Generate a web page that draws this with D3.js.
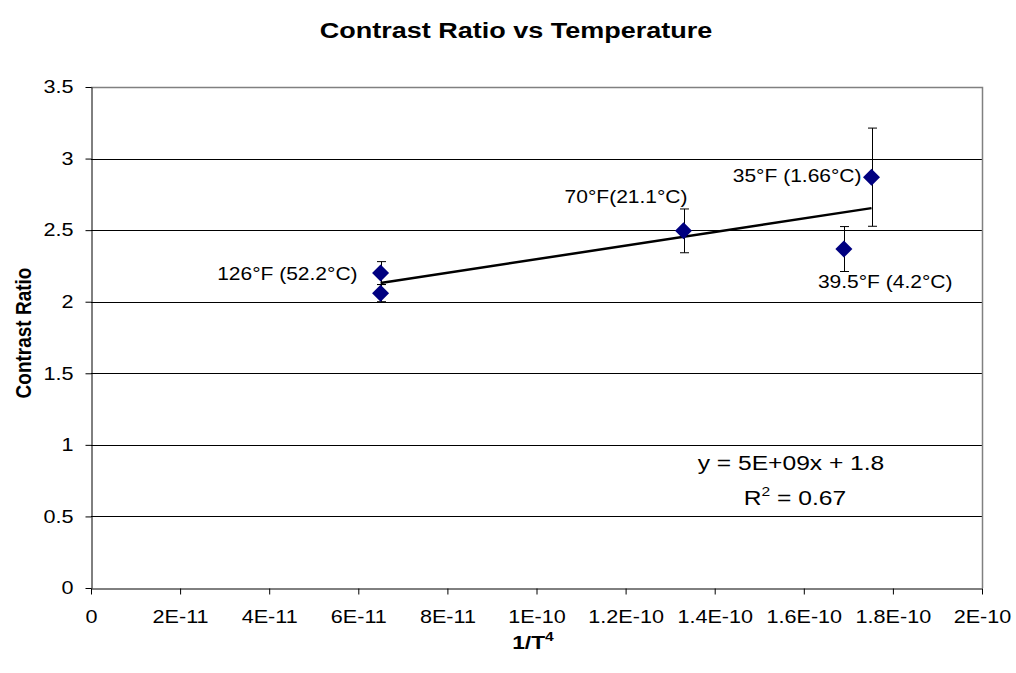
<!DOCTYPE html>
<html>
<head>
<meta charset="utf-8">
<script src="https://cdn.jsdelivr.net/npm/d3@7"></script>
<style>
  html, body { margin: 0; padding: 0; background: #fff; }
  svg { display: block; font-family: "Liberation Sans", Arial, sans-serif; }
</style>
</head>
<body>
<svg id="chart" width="1016" height="673"></svg>
<script>
// Measurements: 1/T^4 against contrast ratio, with error bars
const labels    = ["126°F (52.2°C)", "", "70°F(21.1°C)", "35°F (1.66°C)", "39.5°F (4.2°C)"];
const invT4     = [6.5e-11, 6.5e-11, 1.33e-10, 1.752e-10, 1.69e-10];
const contrast  = [2.20, 2.06, 2.495, 2.87, 2.368];
const errors    = [0.08, 0.06, 0.153, 0.343, 0.157];

const xTicks = [0, 2e-11, 4e-11, 6e-11, 8e-11, 1e-10, 1.2e-10, 1.4e-10, 1.6e-10, 1.8e-10, 2e-10];
const xTickLabels = ["0", "2E-11", "4E-11", "6E-11", "8E-11", "1E-10", "1.2E-10", "1.4E-10", "1.6E-10", "1.8E-10", "2E-10"];
const yTicks = [0, 0.5, 1, 1.5, 2, 2.5, 3, 3.5];

// Text is drawn slightly wide, as in the original chart output
const SX = 1.2;
const FONT = "Liberation Sans, Arial, sans-serif";

const svg = d3.select("#chart");
const plot = { left: 91, right: 982, top: 87, bottom: 588 };

const x = d3.scaleLinear().domain([0, 2e-10]).range([plot.left, plot.right]);
const y = d3.scaleLinear().domain([0, 3.5]).range([plot.bottom, plot.top]);

function wideText(px, py, size, anchor, extra = "") {
  return svg.append("text")
    .attr("transform", `translate(${px},${py}) scale(${SX},1)${extra}`)
    .attr("text-anchor", anchor)
    .attr("font-size", size);
}

// Title
wideText(516, 38, 22.5, "middle")
  .attr("font-weight", "bold")
  .text("Contrast Ratio vs Temperature");

// Horizontal gridlines
svg.append("g")
  .selectAll("line")
  .data(yTicks.filter(v => v > 0 && v < 3.5))
  .join("line")
  .attr("x1", plot.left).attr("x2", plot.right)
  .attr("y1", d => Math.round(y(d)) + 0.5).attr("y2", d => Math.round(y(d)) + 0.5)
  .attr("stroke", "#000").attr("stroke-width", 1);

// Plot frame (top and right)
svg.append("path")
  .attr("d", `M${plot.left},${plot.top + 0.5}H${plot.right + 0.5}V${plot.bottom}`)
  .attr("fill", "none").attr("stroke", "#808080").attr("stroke-width", 1.5);

// Axes
const xAxis = d3.axisBottom(x)
  .tickValues(xTicks)
  .tickFormat((d, i) => xTickLabels[i])
  .tickSizeInner(6).tickSizeOuter(0).tickPadding(16);
const gx = svg.append("g")
  .attr("transform", `translate(0,${plot.bottom + 0.5})`)
  .call(xAxis);
gx.select(".domain").attr("stroke", "#000");
gx.selectAll(".tick line").attr("stroke", "#000");
gx.selectAll(".tick text")
  .attr("font-size", 18).attr("fill", "#000").attr("font-family", FONT)
  .attr("transform", `scale(${SX},1)`);

const yAxis = d3.axisLeft(y)
  .tickValues(yTicks)
  .tickFormat(d3.format("~g"))
  .tickSizeInner(6).tickSizeOuter(0).tickPadding(12);
const gy = svg.append("g")
  .attr("transform", `translate(${plot.left + 0.5},0)`)
  .call(yAxis);
gy.select(".domain").attr("stroke", "#000");
gy.selectAll(".tick line").attr("stroke", "#000");
gy.selectAll(".tick text")
  .attr("font-size", 18).attr("fill", "#000").attr("font-family", FONT)
  .attr("x", function () { return +d3.select(this).attr("x") / SX; })
  .attr("transform", `scale(${SX},1)`);

// Axis titles
wideText(31, 333, 19, "middle", " rotate(-90)")
  .attr("font-weight", "bold")
  .text("Contrast Ratio");

const xTitle = wideText(533, 649, 19, "middle").attr("font-weight", "bold");
xTitle.append("tspan").text("1/T");
xTitle.append("tspan").attr("dy", -8).attr("font-size", 13).text("4");

// Data rows
const data = invT4.map((v, i) => ({ x: v, y: contrast[i], e: errors[i], label: labels[i] }));

// Least-squares trendline
const mx = d3.mean(invT4), my = d3.mean(contrast);
const sxy = d3.sum(data, d => (d.x - mx) * (d.y - my));
const sxx = d3.sum(data, d => (d.x - mx) ** 2);
const slope = sxy / sxx, intercept = my - slope * mx;
const [xmin, xmax] = d3.extent(invT4);

// Error bars
const eb = svg.append("g").attr("stroke", "#000").attr("stroke-width", 1);
data.forEach(d => {
  const cx = Math.round(x(d.x)) + 0.5;
  eb.append("line").attr("x1", cx).attr("x2", cx).attr("y1", y(d.y - d.e)).attr("y2", y(d.y + d.e));
  [d.y - d.e, d.y + d.e].forEach(v => {
    eb.append("line").attr("x1", cx - 4.5).attr("x2", cx + 4.5).attr("y1", y(v)).attr("y2", y(v));
  });
});

svg.append("line")
  .attr("x1", x(xmin)).attr("y1", y(slope * xmin + intercept))
  .attr("x2", x(xmax)).attr("y2", y(slope * xmax + intercept))
  .attr("stroke", "#000").attr("stroke-width", 2.5);

// Diamond markers
svg.append("g")
  .selectAll("path")
  .data(data)
  .join("path")
  .attr("transform", d => `translate(${x(d.x)},${y(d.y)})`)
  .attr("d", "M0,-8.5L8.5,0L0,8.5L-8.5,0Z")
  .attr("fill", "#000080");

// Point labels
const labelPos = [
  { dx: -23, dy: 6.5, anchor: "end" },
  null,
  { dx: 4, dy: -28, anchor: "end" },
  { dx: -10, dy: 5, anchor: "end" },
  { dx: -26, dy: 39, anchor: "start" }
];
data.forEach((d, i) => {
  const p = labelPos[i];
  if (!p) return;
  wideText(x(d.x) + p.dx, y(d.y) + p.dy, 17.5, p.anchor).text(d.label);
});

// Trendline equation
wideText(791, 470, 20.5, "middle").text("y = 5E+09x + 1.8");
const r2 = wideText(795, 505, 20.5, "middle");
r2.append("tspan").text("R");
r2.append("tspan").attr("dy", -9).attr("font-size", 13).text("2");
r2.append("tspan").attr("dy", 9).text(" = 0.67");
</script>
</body>
</html>
